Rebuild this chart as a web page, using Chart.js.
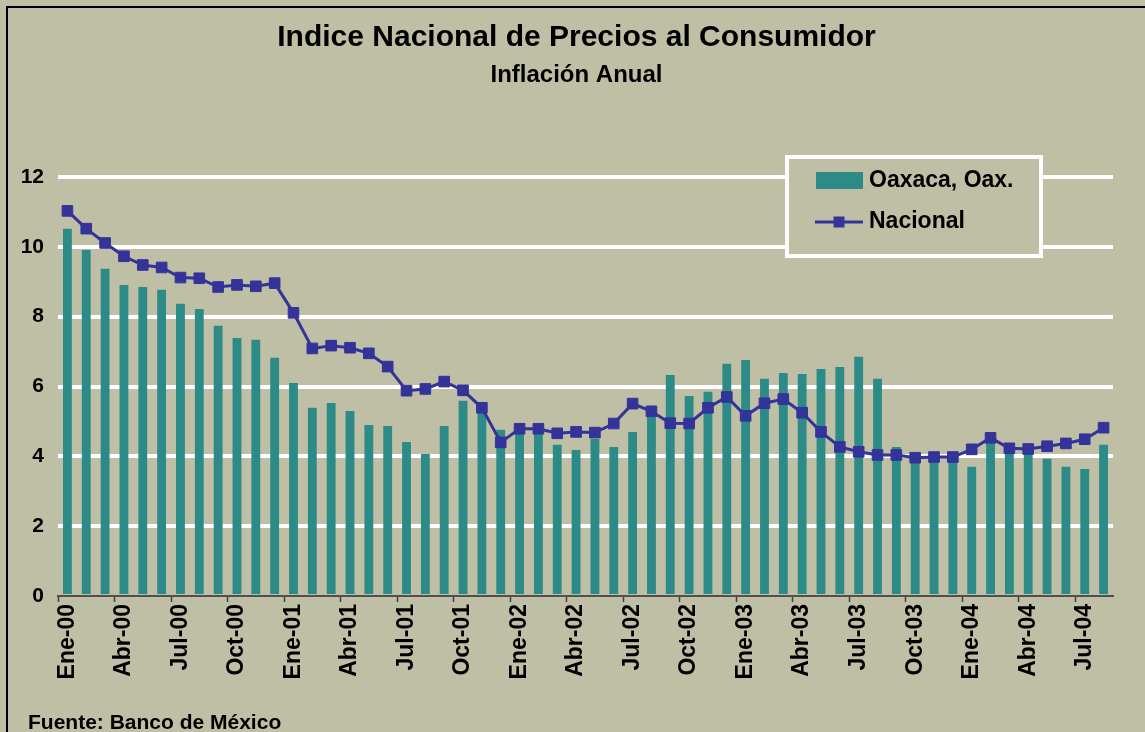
<!DOCTYPE html>
<html>
<head>
<meta charset="utf-8">
<script src="https://cdn.jsdelivr.net/npm/chart.js@4.4.0/dist/chart.umd.min.js"></script>
<style>
  html, body { margin: 0; padding: 0; background: #bfbfa6; overflow: hidden; }
  canvas { display: block; }
</style>
</head>
<body>
<canvas id="grafica" width="1145" height="732"></canvas>
<script>
// meses de Ene-00 a Ago-04
const meses = [
  "Ene-00","Feb-00","Mar-00","Abr-00","May-00","Jun-00","Jul-00","Ago-00","Sep-00","Oct-00","Nov-00","Dic-00",
  "Ene-01","Feb-01","Mar-01","Abr-01","May-01","Jun-01","Jul-01","Ago-01","Sep-01","Oct-01","Nov-01","Dic-01",
  "Ene-02","Feb-02","Mar-02","Abr-02","May-02","Jun-02","Jul-02","Ago-02","Sep-02","Oct-02","Nov-02","Dic-02",
  "Ene-03","Feb-03","Mar-03","Abr-03","May-03","Jun-03","Jul-03","Ago-03","Sep-03","Oct-03","Nov-03","Dic-03",
  "Ene-04","Feb-04","Mar-04","Abr-04","May-04","Jun-04","Jul-04","Ago-04"
];

const oaxaca = [
  10.52, 9.91, 9.37, 8.91, 8.85, 8.77, 8.37, 8.22, 7.74, 7.39, 7.34, 6.82,
  6.10, 5.39, 5.53, 5.30, 4.90, 4.87, 4.41, 4.07, 4.87, 5.59, 5.35, 4.76,
  4.75, 4.70, 4.33, 4.18, 4.50, 4.27, 4.70, 5.25, 6.33, 5.73, 5.85, 6.65,
  6.76, 6.22, 6.39, 6.36, 6.50, 6.56, 6.85, 6.22, 4.27, 4.05, 4.00, 3.95,
  3.70, 4.45, 4.12, 4.10, 3.93, 3.70, 3.64, 4.33
];

const nacional = [
  11.03, 10.52, 10.11, 9.73, 9.48, 9.41, 9.12, 9.10, 8.85, 8.91, 8.87, 8.96,
  8.11, 7.09, 7.17, 7.11, 6.95, 6.57, 5.88, 5.93, 6.14, 5.89, 5.39, 4.40,
  4.79, 4.79, 4.66, 4.70, 4.68, 4.94, 5.51, 5.29, 4.95, 4.94, 5.39, 5.70,
  5.16, 5.52, 5.64, 5.25, 4.70, 4.27, 4.13, 4.04, 4.04, 3.96, 3.98, 3.98,
  4.20, 4.53, 4.23, 4.21, 4.29, 4.37, 4.49, 4.82
];

const FONDO = "#bfbfa6";
const VERDE = "#2d8b87";
const AZUL = "#333399";
const LETRA = "'Liberation Sans', Arial, sans-serif";

// fondo y marco negro
const fondo = {
  id: "fondo",
  beforeDraw(chart) {
    const c = chart.ctx;
    c.save();
    c.fillStyle = FONDO;
    c.fillRect(0, 0, chart.width, chart.height);
    c.fillStyle = "#000";
    c.fillRect(6, 6, chart.width - 6, 2);
    c.fillRect(6, 6, 2, chart.height - 6);
    c.restore();
  }
};

// leyenda dentro del area de la grafica
const leyenda = {
  id: "leyenda",
  afterDatasetsDraw(chart) {
    const c = chart.ctx;
    const barras = chart.data.datasets[1];
    const linea = chart.data.datasets[0];
    c.save();
    c.fillStyle = FONDO;
    c.fillRect(787, 157, 254, 99);
    c.strokeStyle = "#fff";
    c.lineWidth = 4;
    c.strokeRect(787, 157, 254, 99);

    c.fillStyle = barras.backgroundColor;
    c.fillRect(816, 172, 47, 17);

    c.strokeStyle = linea.borderColor;
    c.lineWidth = 3;
    c.beginPath();
    c.moveTo(815, 222);
    c.lineTo(863, 222);
    c.stroke();
    c.fillStyle = linea.borderColor;
    c.fillRect(833.5, 216.5, 11, 11);

    c.fillStyle = "#000";
    c.font = "bold 23px " + LETRA;
    c.textBaseline = "middle";
    c.fillText(barras.label, 869, 181);
    c.fillText(linea.label, 869, 222);
    c.restore();
  }
};

const fuente = {
  id: "fuente",
  afterDraw(chart) {
    const c = chart.ctx;
    c.save();
    c.fillStyle = "#000";
    c.font = "bold 21px " + LETRA;
    c.textBaseline = "alphabetic";
    c.fillText("Fuente: Banco de México", 28, 729);
    c.restore();
  }
};

new Chart(document.getElementById("grafica"), {
  type: "bar",
  data: {
    labels: meses,
    datasets: [
      {
        type: "line",
        label: "Nacional",
        data: nacional,
        yAxisID: "y",
        borderColor: AZUL,
        backgroundColor: AZUL,
        borderWidth: 3,
        tension: 0,
        pointStyle: "rect",
        pointRadius: 7.5,
        pointBorderWidth: 1,
        pointBackgroundColor: AZUL,
        pointBorderColor: AZUL,
        order: 0
      },
      {
        label: "Oaxaca, Oax.",
        data: oaxaca,
        yAxisID: "y",
        backgroundColor: VERDE,
        barPercentage: 0.47,
        categoryPercentage: 1,
        order: 1
      }
    ]
  },
  options: {
    responsive: false,
    animation: false,
    layout: { padding: { left: 8, right: 0, top: 8, bottom: 0 } },
    plugins: {
      legend: { display: false },
      tooltip: { enabled: false },
      title: {
        display: true,
        text: "Indice Nacional de Precios al Consumidor",
        color: "#000",
        font: { family: LETRA, size: 30, weight: "bold", lineHeight: 1.2 },
        padding: { top: 12, bottom: 0 }
      },
      subtitle: {
        display: true,
        text: "Inflación Anual",
        color: "#000",
        font: { family: LETRA, size: 24, weight: "bold", lineHeight: 1.2 },
        padding: { top: 5, bottom: 87.2 }
      }
    },
    scales: {
      x: {
        offset: true,
        grid: {
          display: true,
          drawOnChartArea: false,
          offset: true,
          tickLength: 6,
          tickWidth: 1.5,
          tickColor: (ctx) => (ctx.index % 3 === 0 ? "#404040" : "rgba(0,0,0,0)")
        },
        border: { display: true, color: "#505050", width: 2 },
        ticks: {
          autoSkip: false,
          minRotation: 90,
          maxRotation: 90,
          padding: 2,
          color: "#000",
          font: { family: LETRA, size: 23, weight: "bold" },
          callback: (v, i) => (i % 3 === 0 ? meses[i] : "")
        },
        afterFit: (s) => { s.height = 136; }
      },
      y: {
        min: 0,
        max: 12,
        ticks: {
          stepSize: 2,
          padding: 14,
          color: "#000",
          font: { family: LETRA, size: 21, weight: "bold" }
        },
        grid: {
          color: (ctx) => (ctx.tick && ctx.tick.value === 0 ? "rgba(0,0,0,0)" : "#ffffff"),
          lineWidth: 4,
          drawTicks: false
        },
        border: { display: false },
        afterFit: (s) => { s.width = 50; }
      },
      yDer: {
        position: "right",
        display: true,
        grid: { display: false, drawTicks: false },
        border: { display: false },
        ticks: { display: false },
        afterFit: (s) => { s.width = 32; }
      }
    }
  },
  plugins: [fondo, leyenda, fuente]
});
</script>
</body>
</html>
